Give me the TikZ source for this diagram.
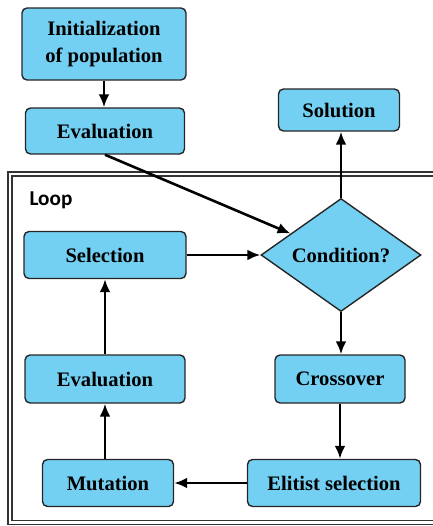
\documentclass[tikz,border=0pt]{standalone}
\usepackage{fontspec}
\setmainfont{Liberation Serif}
\newfontfamily\loopfont{Carlito}
\usepackage{tikz}
\usetikzlibrary{shapes.geometric,arrows.meta,positioning}
\definecolor{boxblue}{RGB}{115,208,243}
\tikzset{
  box/.style={draw=black!85, fill=boxblue, rounded corners=2.5pt, line width=0.7pt,
    align=center, inner sep=0pt, font=\bfseries\fontsize{10.3}{13.5}\selectfont},
  decision/.style={diamond, draw=black!85, fill=boxblue, line width=0.7pt,
    inner sep=0pt, font=\bfseries\fontsize{10.3}{13.5}\selectfont},
  flow/.style={line width=1.3pt, -{Latex[length=6.5pt,width=5.5pt]}}
}
\begin{document}
\begin{tikzpicture}[x=0.5pt,y=-0.5pt]
  \useasboundingbox (0,0) rectangle (433,526);
  \draw[draw=black!80, line width=0.6pt, double=white, double distance=1.4pt] (10,174) rectangle (445,522.5);
  \node[font=\loopfont\bfseries\fontsize{10.6}{12}\selectfont] (loop) at (51,200) {Loop};

  \node[box, minimum width=82pt, minimum height=36pt] (init) at (104,44) {Initialization\\of population};
  \node[box, minimum width=79.5pt, minimum height=23pt] (eval1) at (105,131) {Evaluation};
  \node[box, minimum width=60.5pt, minimum height=21pt] (sol) at (339,110) {Solution};
  \node[decision, minimum width=80pt, minimum height=52.5pt] (cond) at (341,255) {Condition?};
  \node[box, minimum width=81pt, minimum height=23.5pt] (sel) at (105,255) {Selection};
  \node[box, minimum width=80pt, minimum height=24pt] (eval2) at (105,379) {Evaluation};
  \node[box, minimum width=65pt, minimum height=24pt] (cross) at (340,379) {Crossover};
  \node[box, minimum width=65.5pt, minimum height=23.5pt] (mut) at (108,483) {Mutation};
  \node[box, minimum width=86.5pt, minimum height=23.5pt] (elit) at (334,483) {Elitist selection};

  \draw[flow] (init) -- (init |- eval1.north);
  \draw[flow] (eval1.south) -- (cond);
  \draw[flow] (sel) -- (cond);
  \draw[flow] (cond.north) -- (cond.north |- sol.south);
  \draw[flow] (cond.south) -- (cond.south |- cross.north);
  \draw[flow] (cross) -- (cross |- elit.north);
  \draw[flow] (elit) -- (mut);
  \draw[flow] (mut.north -| eval2) -- (eval2);
  \draw[flow] (eval2) -- (sel);
\end{tikzpicture}
\end{document}
